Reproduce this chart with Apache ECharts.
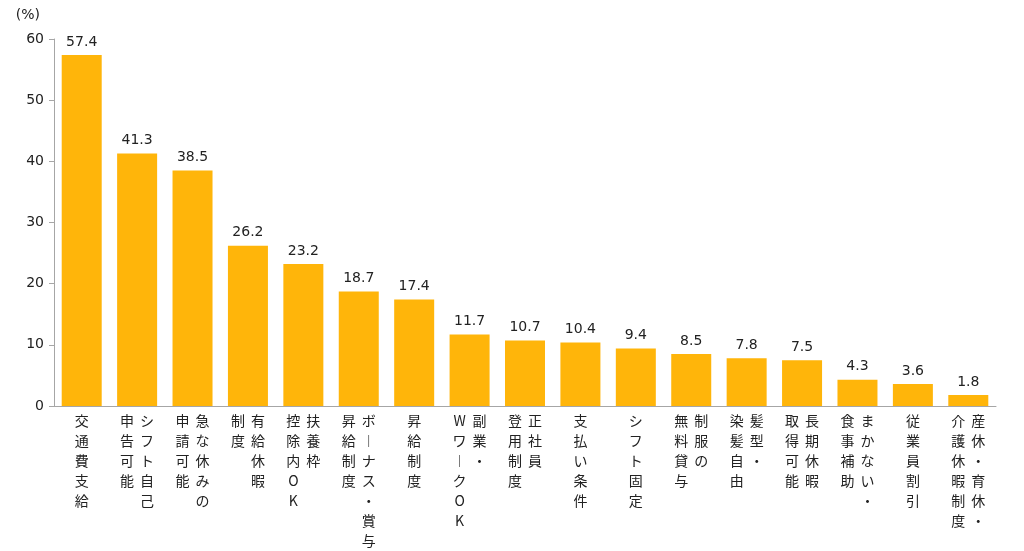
<!DOCTYPE html>
<html><head><meta charset="utf-8">
<script src="https://cdn.jsdelivr.net/npm/echarts@6/dist/echarts.min.js"></script>
<style>html,body{margin:0;padding:0;background:#fff}#c{width:1024px;height:551px}</style>
</head><body><div id="c"></div>
<script>
// Category names; '|' separates vertical columns, first segment is the rightmost column
const categories = ['交通費支給','シフト自己|申告可能','急な休みの|申請可能','有給休暇|制度','扶養枠|控除内OK','ボーナス・賞与|昇給制度','昇給制度','副業・|WワークOK','正社員|登用制度','支払い条件','シフト固定','制服の|無料貸与','髪型・|染髪自由','長期休暇|取得可能','まかない・|食事補助','従業員割引','産休・育休・|介護休暇制度'];
const values = [57.4,41.3,38.5,26.2,23.2,18.7,17.4,11.7,10.7,10.4,9.4,8.5,7.8,7.5,4.3,3.6,1.8];
const yTicks = {min:0, max:60, interval:10};

function vert(v){
  const cols = v.split('|').map(s => Array.from(s.replace(/ー/g,'︱')));
  const n = Math.max(...cols.map(c => c.length));
  const lines = [];
  for (let i = 0; i < n; i++) {
    lines.push(cols.slice().reverse().map(c => '{c|' + (c[i] || '\u3000') + '}').join(''));
  }
  return lines.join('\n');
}

const chart = echarts.init(document.getElementById('c'));
chart.setOption({
  animation:false,
  grid:{left:54, right:28, top:39, bottom:142},
  xAxis:{type:'category', data:categories,
    axisLine:{lineStyle:{color:'#a6a6a6'}}, axisTick:{show:false},
    axisLabel:{interval:0, margin:5, formatter:vert, align:'center', verticalAlign:'top',
      rich:{c:{width:20, height:20, lineHeight:20, align:'center', fontSize:14, color:'#222', fontFamily:'Noto Sans CJK JP'}}}},
  yAxis:{type:'value', min:yTicks.min, max:yTicks.max, interval:yTicks.interval,
    name:'(%)', nameLocation:'end', nameGap:17,
    nameTextStyle:{align:'right', padding:[0,14,0,0], fontSize:14, color:'#222', fontFamily:'DejaVu Sans'},
    axisLine:{show:true, lineStyle:{color:'#a6a6a6'}},
    axisTick:{show:true, length:5, lineStyle:{color:'#a6a6a6'}},
    splitLine:{show:false},
    axisLabel:{fontSize:14, color:'#222', margin:10, fontFamily:'DejaVu Sans'}},
  series:[{type:'bar', data:values, barWidth:40, itemStyle:{color:'#FFB50A'},
    label:{show:true, position:'top', distance:6, fontSize:14, color:'#222', fontFamily:'DejaVu Sans'}}]
});
</script></body></html>
